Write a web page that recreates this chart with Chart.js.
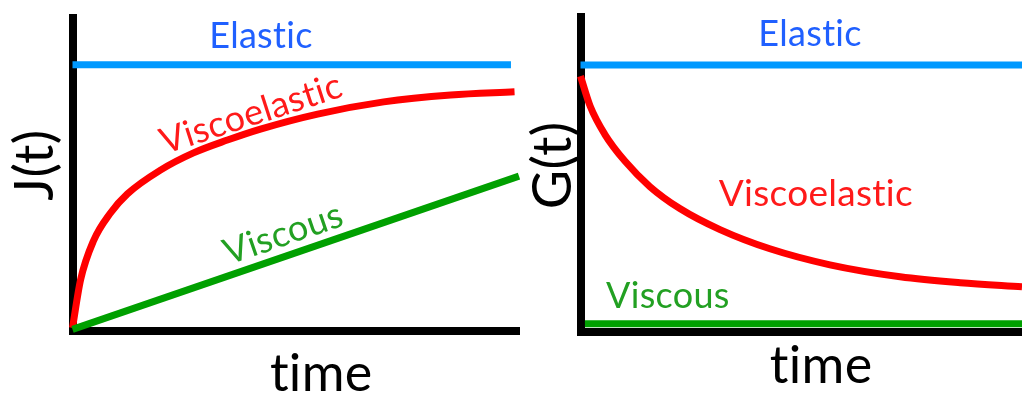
<!DOCTYPE html>
<html>
<head>
<meta charset="utf-8">
<script src="https://cdn.jsdelivr.net/npm/chart.js@4"></script>
<style>
  html, body { margin: 0; padding: 0; background: #fff; }
  body { width: 1022px; height: 395px; position: relative; overflow: hidden; }
  canvas { position: absolute; top: 0; }
  #creep { left: 0; }
  #relax { left: 505px; }
</style>
</head>
<body>
<canvas id="creep" width="525" height="395"></canvas>
<canvas id="relax" width="517" height="395"></canvas>
<script>
// creep compliance J(t)
const creepTime = [0, 0.18, 0.47, 0.85, 1.23, 1.97, 2.71, 3.47, 4.21, 5.49, 6.97, 8.47, 9.90];
const creepViscoelastic = [0.1, 1.63, 2.88, 3.77, 4.38, 5.14, 5.69, 6.10, 6.45, 6.93, 7.32, 7.54, 7.64];
const creepElastic = [8.51, 8.51];
const creepElasticTime = [0, 9.82];
const creepViscous = [0.05, 4.95];
const creepViscousTime = [0, 10];

// relaxation modulus G(t)
const relaxTime = [0, 0.22, 0.55, 1.01, 1.57, 2.25, 3.16, 4.29, 5.65, 7.24, 8.60, 10];
const relaxViscoelastic = [8.12, 7.16, 6.27, 5.41, 4.61, 3.91, 3.24, 2.63, 2.12, 1.74, 1.55, 1.42];
const relaxElastic = [8.47, 8.47];
const relaxElasticTime = [0, 10];
const relaxViscous = [0.25, 0.25];
const relaxViscousTime = [0.1, 10];

const BLUE = '#0099ff', RED = '#ff0000', GREEN = '#00a000';

function pts(xs, ys) {
  return xs.map((x, i) => ({ x: x, y: ys[i] }));
}

function line(data, color) {
  return {
    data: data,
    borderColor: color,
    borderWidth: 7,
    pointRadius: 0,
    fill: false,
    clip: false,
    cubicInterpolationMode: 'monotone'
  };
}

// text drawn at data coordinates
const textPlugin = {
  id: 'texts',
  afterDatasetsDraw(chart, args, opts) {
    const ctx = chart.ctx;
    const xs = chart.scales.x, ys = chart.scales.y;
    opts.items.forEach(t => {
      ctx.save();
      ctx.translate(xs.getPixelForValue(t.x), ys.getPixelForValue(t.y));
      ctx.rotate((t.angle || 0) * Math.PI / 180);
      ctx.font = t.size + 'px Lato';
      ctx.letterSpacing = '0.3px'; // keeps "ti" from joining
      ctx.fillStyle = t.color;
      ctx.textAlign = 'center';
      ctx.textBaseline = t.base || 'alphabetic';
      ctx.fillText(t.text, 0, 0);
      ctx.restore();
    });
  }
};

function makeChart(el, datasets, padding, items) {
  const axis = {
    type: 'linear', min: 0, max: 10,
    grid: { display: false, drawTicks: false },
    ticks: { display: false },
    border: { display: true, color: '#000', width: 8 }
  };
  return new Chart(el, {
    type: 'line',
    data: { datasets: datasets },
    options: {
      responsive: false,
      animation: false,
      layout: { padding: padding },
      plugins: {
        legend: { display: false },
        tooltip: { enabled: false },
        texts: { items: items }
      },
      scales: { x: axis, y: Object.assign({}, axis) }
    },
    plugins: [textPlugin]
  });
}

makeChart(document.getElementById('creep'), [
  line(pts(creepElasticTime, creepElastic), BLUE),
  line(pts(creepViscousTime, creepViscous), GREEN),
  line(pts(creepTime, creepViscoelastic), RED)
], { left: 72.5, top: 18, right: 6, bottom: 64 }, [
  { text: 'Elastic', x: 4.22, y: 9.04, size: 36, color: '#2060ff' },
  { text: 'Viscoelastic', x: 4.0, y: 6.93, size: 36, color: '#ff1a1a', angle: -18, base: 'middle' },
  { text: 'Viscous', x: 4.72, y: 3.1, size: 36, color: '#22a022', angle: -19, base: 'middle' },
  { text: 'J(t)', x: -0.82, y: 5.30, size: 54, color: '#000', angle: -90, base: 'middle' },
  { text: 'time', x: 5.57, y: -1.92, size: 52, color: '#000' }
]);

makeChart(document.getElementById('relax'), [
  line(pts(relaxElasticTime, relaxElastic), BLUE),
  line(pts(relaxViscousTime, relaxViscous), GREEN),
  line(pts(relaxTime, relaxViscoelastic), RED)
], { left: 75.5, top: 17, right: 0, bottom: 63.5 }, [
  { text: 'Elastic', x: 5.20, y: 9.07, size: 36, color: '#2060ff' },
  { text: 'Viscoelastic', x: 5.33, y: 4.00, size: 37, color: '#ff1a1a' },
  { text: 'Viscous', x: 1.98, y: 0.75, size: 36, color: '#22a022' },
  { text: 'G(t)', x: -0.62, y: 5.28, size: 54, color: '#000', angle: -90, base: 'middle' },
  { text: 'time', x: 5.45, y: -1.64, size: 52, color: '#000' }
]);
</script>
</body>
</html>
